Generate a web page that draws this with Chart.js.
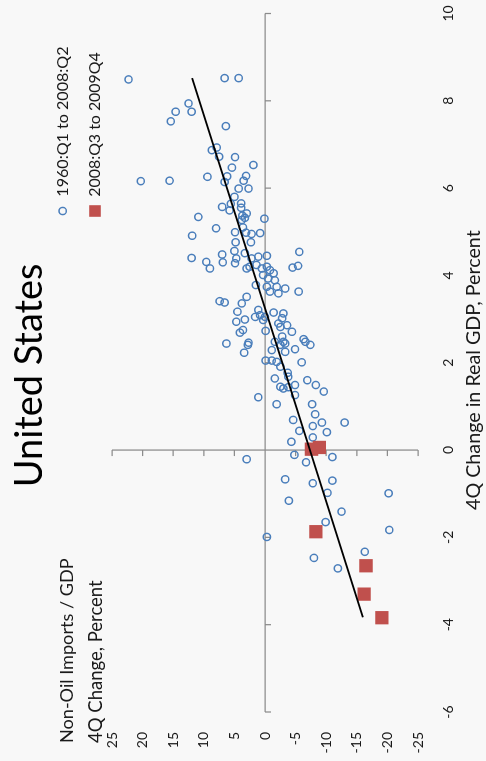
<!DOCTYPE html>
<html>
<head>
<meta charset="utf-8">
<title>United States</title>
<script src="https://cdn.jsdelivr.net/npm/chart.js@4.4.1/dist/chart.umd.min.js"></script>
<style>
  html, body { margin: 0; padding: 0; background: #f8f8f8; overflow: hidden; }
  /* chart is drawn landscape and turned a quarter turn to the left */
  #wrap { position: absolute; left: 0; top: 0; width: 761px; height: 486px;
          transform-origin: 0 0; transform: translate(0, 761px) rotate(-90deg); }
</style>
</head>
<body>
<div id="wrap"><canvas id="myChart" width="761" height="486"></canvas></div>
<script>
// 4Q change in real GDP (x) vs 4Q change in non-oil imports / GDP (y), percent
const gdpBlue = [8.49, 8.52, 8.52, 7.94, 7.75, 7.75, 7.53, 7.42, 6.93, 6.87,
  6.72, 6.71, 6.53, 6.47, 6.16, 6.17, 6.26, 6.27, 6.14, 6.28,
  6.17, 5.99, 5.99, 5.80, 5.57, 5.64, 5.49, 5.65, 5.55, 5.42,
  5.37, 5.32, 5.27, 5.30, 5.34, 5.08, 4.91, 4.99, 5.10, 4.98,
  4.95, 4.97, 4.76, 4.76, 4.56, 4.48, 4.31, 4.16, 4.30, 4.28,
  4.39, 4.51, 4.39, 4.43, 4.45, 4.16, 4.20, 4.24, 4.16, 4.20,
  4.12, 4.05, 4.01, 3.93, 3.89, 3.78, 3.74, 3.74, 3.70, 3.63,
  3.59, 4.54, 4.22, 4.18, 3.63, 4.40, 3.41, 3.38, 3.36, 3.51,
  3.17, 3.21, 3.05, 3.09, 3.05, 3.15, 3.13, 2.94, 2.99, 2.98,
  3.02, 2.90, 2.82, 2.86, 2.71, 2.75, 2.69, 2.73, 2.44, 2.46,
  2.41, 2.23, 2.60, 2.48, 2.44, 2.48, 2.41, 2.29, 2.25, 2.31,
  2.54, 2.48, 2.41, 2.05, 2.05, 2.02, 1.91, 2.01, 1.77, 1.68,
  1.64, 1.45, 1.41, 1.44, 1.49, 1.60, 1.49, 1.34, 1.21, 1.05,
  1.26, 1.05, 0.82, 0.69, 0.63, 0.55, 0.63, 0.44, 0.41, 0.29,
  0.19, -0.21, -0.11, -0.28, -0.16, -0.67, -0.76, -0.70, -0.98, -0.99,
  -1.16, -1.41, -1.65, -1.83, -1.99, -2.47, -2.71, -2.33]
const impBlue = [22.3, 6.6, 4.3, 12.5, 14.6, 12.0, 15.4, 6.4, 7.9, 8.7,
  7.5, 4.9, 1.9, 5.4, 20.3, 15.6, 9.4, 6.2, 6.6, 3.1,
  3.5, 4.3, 2.7, 5.0, 7.0, 5.6, 5.8, 3.9, 3.9, 3.0,
  3.7, 3.3, 3.8, 0.1, 10.9, 8.0, 11.9, 4.9, 3.6, 3.1,
  2.2, 0.8, 2.3, 4.8, 5.0, 7.0, 9.6, 9.0, 6.9, 4.9,
  4.7, 3.3, 2.2, 1.1, -0.3, 3.0, 2.5, 1.4, 0.5, -0.3,
  -0.8, -1.4, 0.3, -0.5, -1.6, 1.5, -0.3, -1.9, -3.3, -0.8,
  -2.2, -5.6, -5.4, -4.5, -5.5, 12.0, 7.4, 6.6, 3.8, 3.0,
  4.5, 1.1, 1.6, 0.8, 0.0, -1.4, -3.0, 4.7, 3.3, 0.3,
  -2.8, -2.2, -2.5, -3.6, -4.4, 3.6, 4.1, -0.1, 6.3, 2.7,
  2.8, 3.4, -2.8, -3.0, -3.3, -1.6, -2.5, -1.1, -3.3, -4.9,
  -6.3, -6.6, -7.4, -0.1, -1.1, -1.9, -2.5, -6.0, -3.7, -3.8,
  -1.6, -2.5, -3.0, -3.8, -4.9, -6.9, -8.3, -9.6, 1.1, -1.9,
  -4.9, -7.7, -8.2, -4.6, -9.3, -7.8, -13.0, -5.6, -10.1, -7.8,
  -4.3, 3.0, -4.8, -6.7, -11.0, -3.3, -7.8, -11.0, -10.2, -20.2,
  -3.9, -12.5, -9.9, -20.3, -0.3, -8.0, -11.9, -16.3]

const gdpRed = [0.02, 0.06, -1.87, -2.65, -3.30, -3.84]
const impRed = [-7.6, -8.9, -8.3, -16.5, -16.2, -19.1]

const trendGdp = [8.52, -3.83]
const trendImp = [11.9, -16.0]

const gdpTicks = [-6, -4, -2, 0, 2, 4, 6, 8, 10]
const impTicks = [-25, -20, -15, -10, -5, 0, 5, 10, 15, 20, 25]

const labels = ['1960:Q1 to 2008:Q2', '2008:Q3 to 2009Q4']

const FONT = 'Lato, "Open Sans", sans-serif'
const BLUE = '#4a7ebb'
const RED = '#c0504d'

function fitText(ctx, txt, x, y, w, base) {
  ctx.font = base + 'px ' + FONT
  let size = base * w / ctx.measureText(txt).width
  ctx.font = size.toFixed(1) + 'px ' + FONT
  ctx.fillText(txt, x, y)
}

// axes cross at zero like the excel original
const crossAxes = {
  id: 'crossAxes',
  beforeDatasetsDraw(chart) {
    const ctx = chart.ctx, x = chart.scales.x, y = chart.scales.y
    const x0 = x.getPixelForValue(0), y0 = y.getPixelForValue(0)
    ctx.save()
    ctx.strokeStyle = '#8c8c8c'
    ctx.lineWidth = 1.25
    ctx.beginPath()
    ctx.moveTo(x.getPixelForValue(gdpTicks[0]), y0)
    ctx.lineTo(x.getPixelForValue(gdpTicks[gdpTicks.length - 1]), y0)
    gdpTicks.forEach(t => {
      let px = x.getPixelForValue(t)
      ctx.moveTo(px, y0); ctx.lineTo(px, y0 + 6)
    })
    ctx.moveTo(x0, y.getPixelForValue(impTicks[0]))
    ctx.lineTo(x0, y.getPixelForValue(impTicks[impTicks.length - 1]))
    impTicks.forEach(t => {
      let py = y.getPixelForValue(t)
      ctx.moveTo(x0, py); ctx.lineTo(x0 - 6, py)
    })
    ctx.stroke()
    ctx.restore()
  },
  afterDraw(chart) {
    const ctx = chart.ctx
    ctx.save()
    ctx.fillStyle = '#000'
    ctx.textBaseline = 'alphabetic'
    ctx.textAlign = 'left'
    fitText(ctx, 'United States', 273.7, 41.7, 224, 34)
    ctx.fillStyle = '#1a1a1a'
    fitText(ctx, 'Non-Oil Imports / GDP', 18, 73.3, 185, 17)
    fitText(ctx, '4Q Change, Percent', 18, 101.7, 163, 17)
    fitText(ctx, '4Q Change in Real GDP, Percent', 251, 480, 280, 17)
    fitText(ctx, labels[0], 564.3, 68.3, 150, 15)
    fitText(ctx, labels[1], 564.3, 100, 144.7, 15)
    // legend markers
    ctx.strokeStyle = BLUE
    ctx.lineWidth = 1.5
    ctx.beginPath()
    ctx.arc(550, 62.7, 3.6, 0, Math.PI * 2)
    ctx.stroke()
    ctx.fillStyle = RED
    ctx.fillRect(550 - 5.8, 95 - 5.8, 11.6, 11.6)
    ctx.restore()
  }
}

const blueData = gdpBlue.map((g, i) => ({x: g, y: impBlue[i]}))
const redData = gdpRed.map((g, i) => ({x: g, y: impRed[i]}))
const trendData = trendGdp.map((g, i) => ({x: g, y: trendImp[i]}))

const config = {
  type: 'scatter',
  data: {
    datasets: [{
      label: labels[0],
      data: blueData,
      pointStyle: 'circle',
      pointRadius: 3.6,
      pointBorderWidth: 1.5,
      pointBorderColor: BLUE,
      pointBackgroundColor: 'rgba(0,0,0,0)',
      order: 2
    }, {
      label: labels[1],
      data: redData,
      pointStyle: 'rect',
      pointRadius: 9.4,
      pointBorderWidth: 0,
      pointBorderColor: RED,
      pointBackgroundColor: RED,
      order: 1
    }, {
      type: 'line',
      label: 'trend',
      data: trendData,
      borderColor: '#000',
      borderWidth: 1.75,
      pointRadius: 0,
      fill: false,
      order: 0
    }]
  },
  options: {
    responsive: false,
    devicePixelRatio: 1,
    animation: false,
    layout: {padding: {left: 0, right: 13.5, top: 112, bottom: 0}},
    plugins: {
      legend: {display: false},
      title: {display: false},
      tooltip: {enabled: false}
    },
    scales: {
      x: {
        type: 'linear',
        position: 'bottom',
        min: -6, max: 10,
        afterBuildTicks: s => { s.ticks = gdpTicks.map(v => ({value: v})) },
        afterFit: s => { s.height = 68 },
        grid: {display: false, drawTicks: false},
        border: {display: false},
        // tall line box pushes the labels down without widening the side padding
        ticks: {padding: 0, font: {family: FONT, size: 14, lineHeight: '60px'},
                color: '#1a1a1a', maxRotation: 0, callback: v => String(v)}
      },
      y: {
        type: 'linear',
        position: 'left',
        min: -25, max: 25,
        afterBuildTicks: s => { s.ticks = impTicks.map(v => ({value: v})) },
        afterFit: s => { s.width = 49 },
        grid: {display: false, drawTicks: false},
        border: {display: false},
        ticks: {padding: 20, font: {family: FONT, size: 14}, color: '#1a1a1a',
                callback: v => String(v)}
      }
    }
  },
  plugins: [crossAxes]
}

const myChart = new Chart(document.getElementById('myChart'), config)
</script>
</body>
</html>
